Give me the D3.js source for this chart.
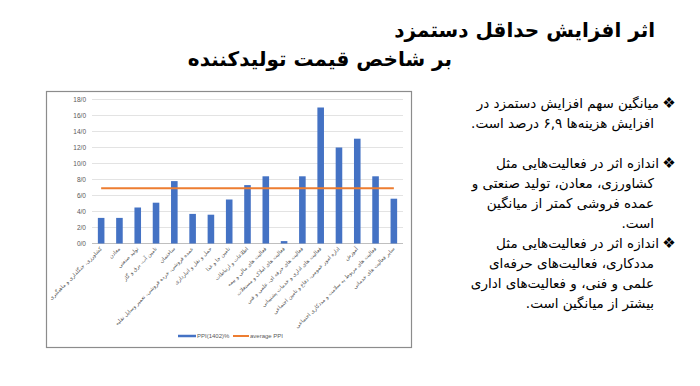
<!DOCTYPE html>
<html><head><meta charset="utf-8">
<script src="https://cdn.jsdelivr.net/npm/d3@7"></script>
<style>
html,body{margin:0;padding:0;background:#fff;}
svg{display:block;}
</style></head>
<body>
<script>
const categories = [
  "کشاورزی، جنگلداری و ماهیگیری",
  "معادن",
  "تولید صنعتی",
  "تامین آب، برق و گاز",
  "ساختمان",
  "عمده فروشی، خرده فروشی، تعمیر وسایل نقلیه",
  "حمل و نقل و انبارداری",
  "تامین جا و غذا",
  "اطلاعات و ارتباطات",
  "فعالیت های مالی و بیمه",
  "فعالیت های املاک و مستغلات",
  "فعالیت های حرفه ای، علمی و فنی",
  "فعالیت های اداری و خدمات پشتیبانی",
  "اداره امور عمومی، دفاع و تامین اجتماعی",
  "آموزش",
  "فعالیت های مربوط به سلامت و مددکاری اجتماعی",
  "سایر فعالیت های خدماتی"
];
const ppiValues = [3.2, 3.2, 4.5, 5.1, 7.8, 3.7, 3.6, 5.5, 7.3, 8.4, 0.3, 8.4, 17.0, 12.0, 13.1, 8.4, 5.6];
const averagePPI = 6.9;
const yTicks = [0, 2, 4, 6, 8, 10, 12, 14, 16, 18];
const seriesNames = ["PPI(1402)%", "average PPI"];
const titleLines = ["اثر افزایش حداقل دستمزد", "بر شاخص قیمت تولیدکننده"];
const bullets = [
  ["میانگین سهم افزایش دستمزد در", "افزایش هزینه‌ها ۶,۹ درصد است."],
  ["اندازه اثر در فعالیت‌هایی مثل", "کشاورزی، معادن، تولید صنعتی و", "عمده فروشی کمتر از میانگین", "است."],
  ["اندازه اثر در فعالیت‌هایی مثل", "مددکاری، فعالیت‌های حرفه‌ای", "علمی و فنی، و فعالیت‌های اداری", "بیشتر از میانگین است."]
];

const W = 700, H = 386;
const svg = d3.select("body").append("svg").attr("width", W).attr("height", H);
svg.append("rect").attr("width", W).attr("height", H).attr("fill", "#fff");

const pfont = "'DejaVu Sans', 'Noto Sans', sans-serif";

// Title
svg.append("text").attr("x", 655).attr("y", 37).attr("text-anchor", "end")
  .attr("font-family", pfont).attr("font-weight", "bold").attr("font-size", 20)
  .attr("fill", "#000").text(titleLines[0]);
svg.append("text").attr("x", 452).attr("y", 66).attr("text-anchor", "end")
  .attr("font-family", pfont).attr("font-weight", "bold").attr("font-size", 20)
  .attr("fill", "#000").text(titleLines[1]);

// Chart frame
svg.append("rect").attr("x", 46.5).attr("y", 91.5).attr("width", 365).attr("height", 256)
  .attr("fill", "#fff").attr("stroke", "#8c8c8c").attr("stroke-width", 1.2);

const x = d3.scaleBand().domain(categories).range([92, 403]).paddingInner(0.64).paddingOuter(0.32);
const y = d3.scaleLinear().domain([0, 18]).range([243.5, 99.5]);

// gridlines
const g = svg.append("g");
g.selectAll("line.grid").data(yTicks).join("line")
  .attr("x1", 92).attr("x2", 403)
  .attr("y1", d => y(d)).attr("y2", d => y(d))
  .attr("stroke", d => d === 0 ? "#bfbfbf" : "#e3e3e3").attr("stroke-width", 1);

// y axis labels
const yAxis = d3.axisLeft(y).tickValues(yTicks).tickSize(0).tickPadding(0)
  .tickFormat(d => d3.format(".1f")(d).replace(".", "/"));
const ya = svg.append("g").attr("transform", "translate(86,0)").call(yAxis);
ya.select(".domain").remove();
ya.selectAll("text").attr("font-family", "'Liberation Sans', Arial, sans-serif")
  .attr("font-size", 6.5).attr("fill", "#595959");

// bars
svg.selectAll("rect.bar").data(ppiValues).join("rect")
  .attr("x", (d, i) => x(categories[i])).attr("width", x.bandwidth())
  .attr("y", d => y(d)).attr("height", d => y(0) - y(d))
  .attr("fill", "#4472c4");

// average line
const cx = c => x(c) + x.bandwidth() / 2;
svg.append("line")
  .attr("x1", cx(categories[0])).attr("x2", cx(categories[categories.length - 1]))
  .attr("y1", y(averagePPI)).attr("y2", y(averagePPI))
  .attr("stroke", "#ed7d31").attr("stroke-width", 2);

// x labels
const xAxis = d3.axisBottom(x).tickSize(0).tickPadding(0);
const xa = svg.append("g").attr("transform", "translate(0,248)").call(xAxis);
xa.select(".domain").remove();
xa.selectAll("text")
  .attr("font-family", pfont).attr("font-size", 5.4).attr("fill", "#595959")
  .attr("text-anchor", "end").attr("dy", "0.3em").attr("y", 0)
  .attr("transform", "rotate(-45)");

// legend
const lg = svg.append("g").attr("font-family", "'Liberation Sans', Arial, sans-serif")
  .attr("font-size", 6).attr("fill", "#595959");
lg.append("line").attr("x1", 178).attr("x2", 196).attr("y1", 336).attr("y2", 336)
  .attr("stroke", "#4472c4").attr("stroke-width", 2.5);
lg.append("text").attr("x", 197).attr("y", 338).text(seriesNames[0]);
lg.append("line").attr("x1", 233).attr("x2", 249).attr("y1", 336).attr("y2", 336)
  .attr("stroke", "#ed7d31").attr("stroke-width", 2);
lg.append("text").attr("x", 250).attr("y", 338).text(seriesNames[1]);

// bullets
const bfont = 13.5;
const lineH = 20;
const starts = [108, 168, 248];
bullets.forEach((b, bi) => {
  b.forEach((line, li) => {
    const yy = starts[bi] + li * lineH;
    svg.append("text").attr("x", li === 0 ? 659 : 654).attr("y", yy)
      .attr("font-family", pfont).attr("font-size", bfont)
      .attr("fill", "#000").attr("direction", "rtl").attr("text-anchor", "start")
      .text(line);
  });
  svg.append("text").attr("x", 669).attr("y", starts[bi]).attr("text-anchor", "middle")
    .attr("font-family", "'DejaVu Sans', sans-serif").attr("font-size", 15)
    .attr("fill", "#000").text("❖");
});
</script>
</body></html>
